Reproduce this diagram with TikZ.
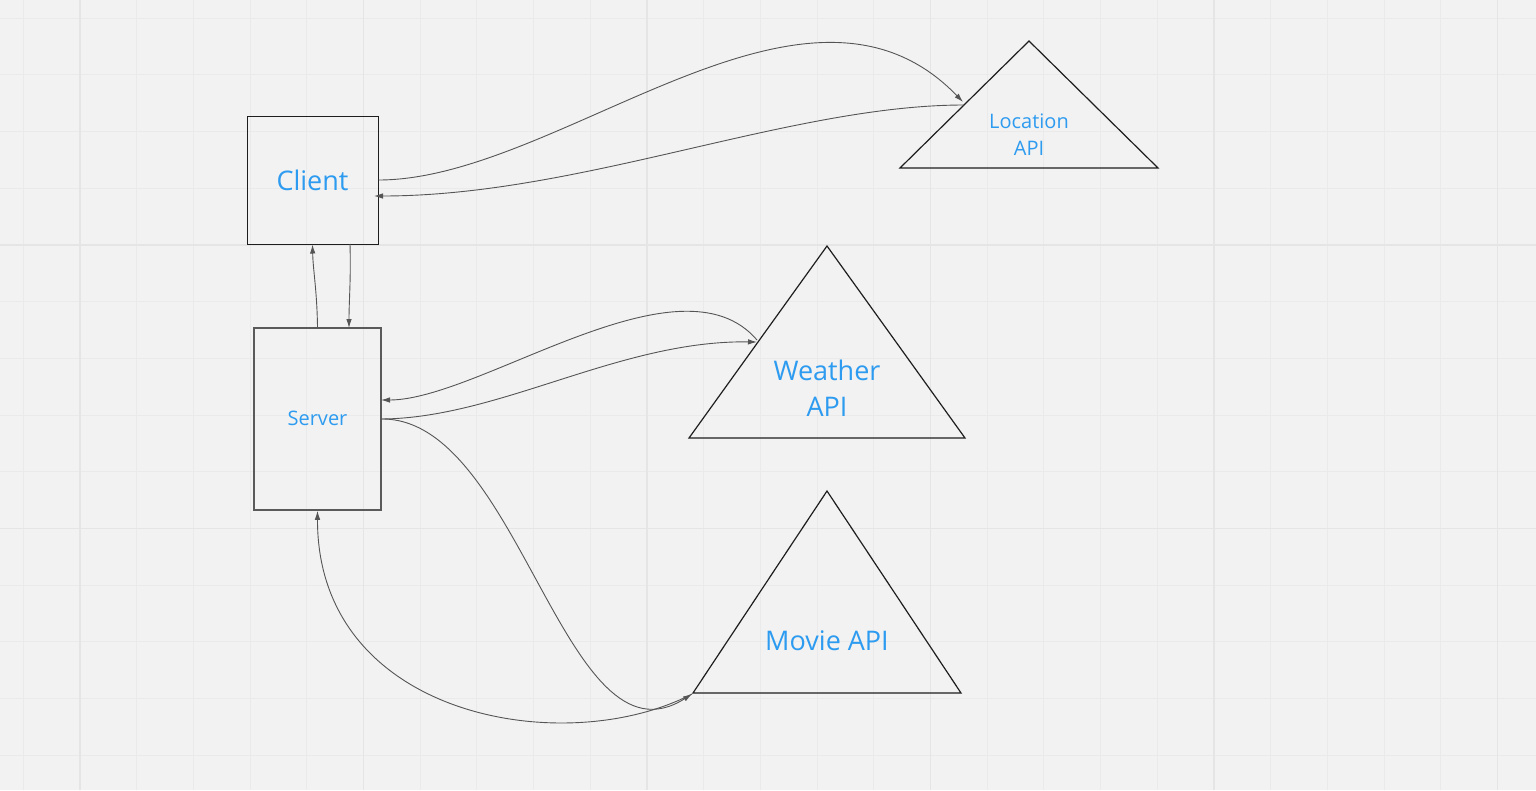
\documentclass[tikz,border=0pt]{standalone}
\usepackage{fontspec}
\setmainfont{Open Sans}
\usetikzlibrary{arrows.meta,calc}
\definecolor{bg}{HTML}{F2F2F2}
\definecolor{gridminor}{HTML}{EAEAEA}
\definecolor{gridmajor}{HTML}{E5E5E5}
\definecolor{lbl}{HTML}{2D9BF0}
\definecolor{conn}{HTML}{555555}
\definecolor{edgecol}{HTML}{1E1E1E}
\definecolor{srvedge}{HTML}{5A5A5A}
\begin{document}
\begin{tikzpicture}[x=1pt,y=-1pt,
  boxshape/.style={draw=edgecol,line width=1pt,inner sep=0pt,text=lbl},
  triedge/.style={draw=edgecol,line width=1.2pt,line join=miter},
  big/.style={font=\fontsize{27}{36}\selectfont,text=lbl,align=center},
  small/.style={font=\fontsize{20}{27}\selectfont,text=lbl,align=center},
  link/.style={draw=conn,line width=0.9pt,-{Latex[length=9pt,width=5.5pt]}}]
\fill[bg] (0,0) rectangle (1536,790);
\useasboundingbox (0,0) rectangle (1536,790);
% grid
\foreach \i in {0,...,26} \draw[gridminor,line width=1pt] ({23.3+56.7*\i},0) -- ({23.3+56.7*\i},790);
\foreach \j in {0,...,13} \draw[gridminor,line width=1pt] (0,{18.2+56.7*\j}) -- (1536,{18.2+56.7*\j});
\foreach \i in {80,363.5,647,930.5,1214,1497.5} \draw[gridmajor,line width=1.1pt] (\i,0) -- (\i,790);
\foreach \j in {245,528.5} \draw[gridmajor,line width=1.1pt] (0,\j) -- (1536,\j);
% boxes
\node[boxshape,minimum width=131pt,minimum height=128pt,font=\fontsize{27}{32}\selectfont] (client) at (312.5,180) {Client};
\node[boxshape,draw=srvedge,line width=1.5pt,minimum width=127pt,minimum height=182pt,font=\fontsize{20}{26}\selectfont] (server) at (317.5,419) {\raisebox{2pt}{Server}};
% triangles
\coordinate (locA) at (1029,41); \coordinate (locL) at (900,168); \coordinate (locR) at (1158,168);
\coordinate (weaA) at (827,246); \coordinate (weaL) at (689,438); \coordinate (weaR) at (965,438);
\coordinate (movA) at (827,491); \coordinate (movL) at (693,693); \coordinate (movR) at (961,693);
\draw[triedge] (locA) -- (locR) -- (locL) -- cycle;
\draw[triedge] (weaA) -- (weaR) -- (weaL) -- cycle;
\draw[triedge] (movA) -- (movR) -- (movL) -- cycle;
\node[small] (loctext) at (1029,134.5) {Location\\API};
\node[big] (weatext) at (827,388) {Weather\\API};
\node[big] (movtext) at (827,641) {Movie API};
% connector end points
\coordinate (locin) at (963,102);
\coordinate (locout) at (964,105);
\coordinate (clientin) at (374,196);
\coordinate (clientbot) at (350,244);
\coordinate (servertop) at (349,328);
\coordinate (weain) at (757,342);
\coordinate (weaout) at (757,340);
\coordinate (serverin) at (381,400);
\coordinate (movin) at (692,694);
% connectors
\draw[link] (client.east) .. controls (560,180) and (805,-62) .. (locin);
\draw[link] (locout) .. controls (790,105) and (580,196) .. (clientin);
\draw[link] (server.north) .. controls (317,290) and (313,270) .. (client.south);
\draw[link] (clientbot) .. controls (351,280) and (349,300) .. (servertop);
\draw[link] (weaout) .. controls (680,250) and (480,400) .. (serverin);
\draw[link] (server.east) .. controls (500,418) and (620,340) .. (weain);
\draw[link] (server.east) .. controls (520,418) and (565,775) .. (movin);
\draw[link] (movin) .. controls (565,760) and (317,718) .. (server.south);
\end{tikzpicture}
\end{document}
